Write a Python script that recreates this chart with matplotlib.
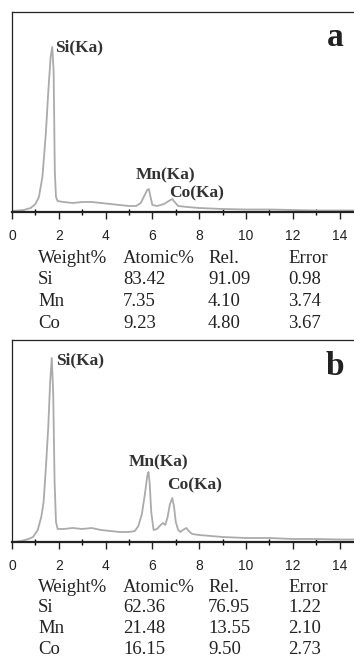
import numpy as np
import matplotlib
matplotlib.use("Agg")
import matplotlib.pyplot as plt
from matplotlib.ticker import MultipleLocator

# EDS spectra (energy keV, counts in arbitrary units)
energy_a = [0.0, 0.5, 0.8, 1.0, 1.15, 1.3, 1.45, 1.55, 1.65, 1.72, 1.78, 1.83, 1.88, 1.95,
            2.2, 2.6, 3.0, 3.4, 3.8, 4.2, 4.6, 5.0, 5.3, 5.5, 5.65, 5.78, 5.85, 5.92, 6.0,
            6.2, 6.5, 6.7, 6.85, 6.95, 7.1, 7.5, 8.0, 9.0, 10.0, 11.0, 12.0, 13.0, 14.0, 14.8]
counts_a = [1, 2, 4, 8, 15, 35, 80, 120, 155, 165, 140, 40, 15, 11,
            10, 9, 10, 10, 9, 8, 7, 6, 6, 9, 16, 22, 23, 15, 7,
            6, 8, 11, 13, 10, 6, 5, 4, 3, 2.5, 2.5, 2, 1.5, 1.5, 1.5]

energy_b = [0.0, 0.4, 0.7, 0.9, 1.1, 1.25, 1.35, 1.45, 1.55, 1.63, 1.7, 1.76, 1.82, 1.88, 1.95,
            2.2, 2.6, 3.0, 3.4, 3.8, 4.2, 4.6, 5.0, 5.25, 5.4, 5.55, 5.68, 5.78, 5.83, 5.88,
            5.95, 6.05, 6.2, 6.35, 6.45, 6.55, 6.65, 6.75, 6.85, 6.92, 7.0, 7.1, 7.2, 7.3,
            7.45, 7.55, 7.7, 8.0, 8.5, 9.0, 10.0, 11.0, 12.0, 13.0, 14.0, 14.8]
counts_b = [0, 1, 3, 5, 12, 25, 40, 75, 115, 160, 184, 150, 60, 20, 13,
            13, 14, 13, 14, 12, 11, 10, 10, 11, 16, 28, 48, 66, 70, 60,
            30, 12, 13, 17, 19, 17, 25, 38, 44, 36, 20, 12, 10, 12,
            14, 11, 8, 7, 6, 5, 4, 4, 3, 3, 2.5, 2.5]

peak_names = ["Si(Ka)", "Mn(Ka)", "Co(Ka)"]
peak_pos_a = [(1.85, 165), (6.54, 37), (7.9, 19)]
peak_pos_b = [(1.9, 182), (6.28, 80), (7.8, 57)]

col_head = ["Weight%", "Atomic%", "Rel.", "Error"]
elements = ["Si", "Mn", "Co"]
table_a = [["83.42", "91.09", "0.98"],
           ["7.35", "4.10", "3.74"],
           ["9.23", "4.80", "3.67"]]
table_b = [["62.36", "76.95", "1.22"],
           ["21.48", "13.55", "2.10"],
           ["16.15", "9.50", "2.73"]]

W, H = 354, 660
fig = plt.figure(figsize=(W / 100, H / 100), dpi=100)

serif = "Liberation Serif"
sans = "Liberation Sans"
col_x = [38, 123, 208, 288]


def panel(top, bottom, energy, counts, pos, letter, ymax):
    ax = fig.add_axes([12 / W, (H - bottom) / H, (W - 12) / W, (bottom - top) / H])
    ax.plot(energy, counts, color="#ababab", lw=1.3)
    ax.set_xlim(0, (W - 12) / 23.4)
    ax.set_ylim(0, ymax)
    ax.set_yticks([])
    ax.xaxis.set_major_locator(MultipleLocator(2))
    ax.xaxis.set_minor_locator(MultipleLocator(1))
    ax.tick_params(axis="x", which="major", direction="out", length=5, width=1, pad=7,
                   labelsize=10, colors="#222222")
    ax.tick_params(axis="x", which="minor", direction="inout", length=4, width=1)
    for lb in ax.get_xticklabels():
        lb.set_fontfamily(sans)
    ax.spines["right"].set_visible(False)
    for s in ["left", "top"]:
        ax.spines[s].set_linewidth(0.9)
        ax.spines[s].set_color("#222222")
    ax.spines["bottom"].set_linewidth(1.6)
    ax.spines["bottom"].set_color("#222222")
    for name, (x, y) in zip(peak_names, pos):
        ha = "left" if name == "Si(Ka)" else "center"
        ax.text(x, y, name, ha=ha, va="center", fontsize=12.5, fontweight="bold",
                family=serif, color="#333333")
    ax.text(13.8, ymax * 0.87, letter, ha="center", va="center", fontsize=24,
            fontweight="bold", family=serif, color="#222222")
    return ax


def table(base, rows, step):
    for x, t in zip(col_x, col_head):
        fig.text(x / W, (H - base) / H, t, family=serif, fontsize=13.5,
                 va="baseline", color="#222222")
    for i, el in enumerate(elements):
        yy = base + step * (i + 1)
        fig.text(col_x[0] / W, (H - yy) / H, el, family=serif, fontsize=13.5,
                 va="baseline", color="#222222")
        for x, v in zip(col_x[1:], rows[i]):
            fig.text(x / W, (H - yy) / H, v, family=serif, fontsize=13.5,
                     va="baseline", color="#222222")


panel(12, 212, energy_a, counts_a, peak_pos_a, "a", 200)
table(263, table_a, 21.5)
panel(340, 542, energy_b, counts_b, peak_pos_b, "b", 202)
table(592, table_b, 20.5)

plt.savefig("out.png", dpi=100)
